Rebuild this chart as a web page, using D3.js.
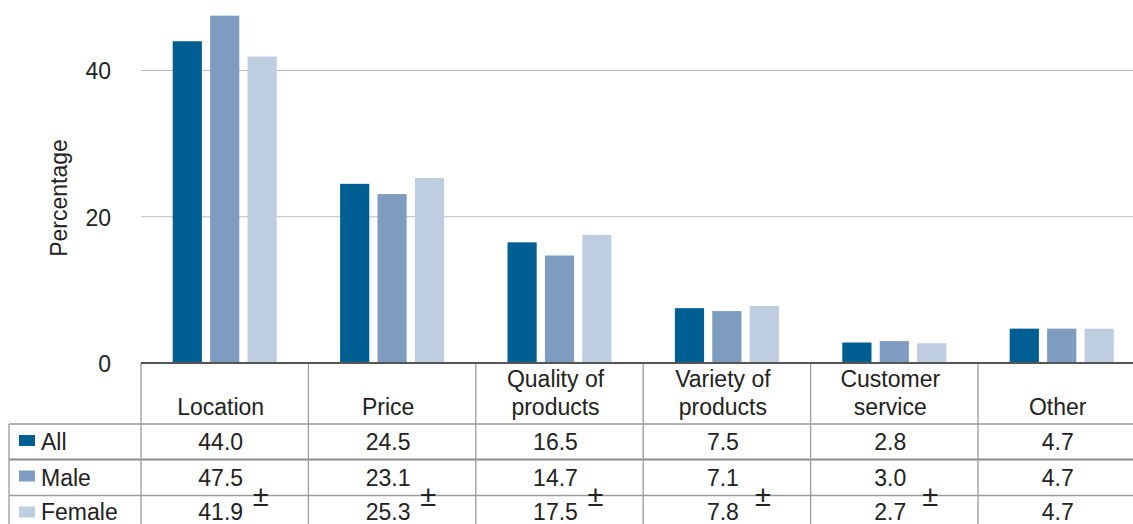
<!DOCTYPE html>
<html>
<head>
<meta charset="utf-8">
<script src="https://cdn.jsdelivr.net/npm/d3@7"></script>
<style>
  html, body { margin: 0; padding: 0; background: #fff; }
  svg { display: block; font-family: "Liberation Sans", Arial, Helvetica, sans-serif; }
</style>
</head>
<body>
<svg id="chart" width="1133" height="524"></svg>
<script>
// ---------- data ----------
var categories = [["Location"], ["Price"], ["Quality of", "products"], ["Variety of", "products"], ["Customer", "service"], ["Other"]];
var seriesNames = ["All", "Male", "Female"];
var allValues = [44.0, 24.5, 16.5, 7.5, 2.8, 4.7];
var maleValues = [47.5, 23.1, 14.7, 7.1, 3.0, 4.7];
var femaleValues = [41.9, 25.3, 17.5, 7.8, 2.7, 4.7];
var femaleSig = [true, true, true, true, true, false]; // ± marks
var yTicks = [0, 20, 40];
var colors = ["#005f92", "#7e9cc0", "#bfcde0"];

var series = [allValues, maleValues, femaleValues];

// ---------- layout ----------
var svg = d3.select("#chart");
var W = 1133, H = 524;
var left = 141, colW = 167.4;
var y0 = 363;
var fs = 23;

var x = d3.scaleBand().domain(d3.range(categories.length)).range([left, left + colW * categories.length]).padding(0);
var xs = d3.scaleBand().domain(d3.range(series.length)).range([0, 104]).paddingInner(0.22);
var y = d3.scaleLinear().domain([0, 40]).range([y0, 70.5]);

// gridlines
svg.append("g").selectAll("line").data(yTicks.filter(function (d) { return d > 0; })).enter().append("line")
  .attr("x1", left).attr("x2", W).attr("y1", function (d) { return y(d); }).attr("y2", function (d) { return y(d); })
  .attr("stroke", "#bdbdbd").attr("stroke-width", 1.2);

// y axis labels
var yAxis = d3.axisLeft(y).tickValues(yTicks).tickSize(0).tickPadding(0).tickFormat(d3.format("d"));
var ya = svg.append("g").attr("transform", "translate(111,0)").call(yAxis);
ya.select(".domain").remove();
ya.selectAll("text").attr("font-size", fs).attr("fill", "#222").attr("font-family", "inherit").attr("dy", "0.36em");

svg.append("text").attr("transform", "translate(67," + 198 + ") rotate(-90)")
  .attr("text-anchor", "middle").attr("font-size", fs).attr("fill", "#222").text("Percentage");

// bars
var groups = svg.append("g").selectAll("g").data(categories).enter().append("g")
  .attr("transform", function (d, i) { return "translate(" + (x(i) + (x.bandwidth() - 104) / 2) + ",0)"; });
groups.selectAll("rect").data(function (d, i) { return series.map(function (s, k) { return { k: k, v: s[i] }; }); })
  .enter().append("rect")
  .attr("x", function (d) { return xs(d.k); }).attr("width", xs.bandwidth())
  .attr("y", function (d) { return y(d.v); }).attr("height", function (d) { return y0 - y(d.v); })
  .attr("fill", function (d) { return colors[d.k]; });

// ---------- table ----------
var rowTop = [424, 459.5, 495.5];
var rowH = 36;
var tbl = svg.append("g").attr("stroke", "#9a9a9a").attr("stroke-width", 1.3);
// horizontal lines
rowTop.forEach(function (ry, i) {
  tbl.append("line").attr("x1", 9).attr("x2", W).attr("y1", ry).attr("y2", ry)
    .attr("stroke-width", i === 1 ? 2 : 1.3).attr("stroke", i === 1 ? "#8a8a8a" : "#9a9a9a");
});
// vertical lines
tbl.append("line").attr("x1", 9).attr("x2", 9).attr("y1", rowTop[0]).attr("y2", H);
d3.range(categories.length).forEach(function (i) {
  tbl.append("line").attr("x1", x(i)).attr("x2", x(i)).attr("y1", y0).attr("y2", H);
});

// axis baseline
svg.append("line").attr("x1", left).attr("x2", W).attr("y1", y0).attr("y2", y0)
  .attr("stroke", "#555").attr("stroke-width", 2.2);

// header labels
var hdr = svg.append("g").attr("font-size", fs).attr("fill", "#222").attr("text-anchor", "middle");
categories.forEach(function (lines, i) {
  var cx = x(i) + x.bandwidth() / 2 - 4;
  lines.forEach(function (t, j) {
    hdr.append("text").attr("x", cx).attr("y", 415 - (lines.length - 1 - j) * 28).text(t);
  });
});

// legend column
var leg = svg.append("g").attr("font-size", fs).attr("fill", "#222");
seriesNames.forEach(function (n, k) {
  var cy = rowTop[k] + rowH / 2;
  leg.append("rect").attr("x", 19).attr("y", cy - 7).attr("width", 16).attr("height", 11).attr("fill", colors[k]);
  leg.append("text").attr("x", 41).attr("y", Math.min(cy + 8, 519.5)).text(n);
});

// values
var vals = svg.append("g").attr("font-size", fs).attr("fill", "#222").attr("text-anchor", "middle");
series.forEach(function (s, k) {
  s.forEach(function (v, i) {
    var cx = x(i) + x.bandwidth() / 2 - 4;
    vals.append("text").attr("x", cx).attr("y", Math.min(rowTop[k] + 26, 519.5)).text(d3.format(".1f")(v));
    if (k === 2 && femaleSig[i]) {
      vals.append("text").attr("x", cx + 40).attr("y", rowTop[k] + 10.5).attr("font-size", 29).text("±");
    }
  });
});
</script>
</body>
</html>
